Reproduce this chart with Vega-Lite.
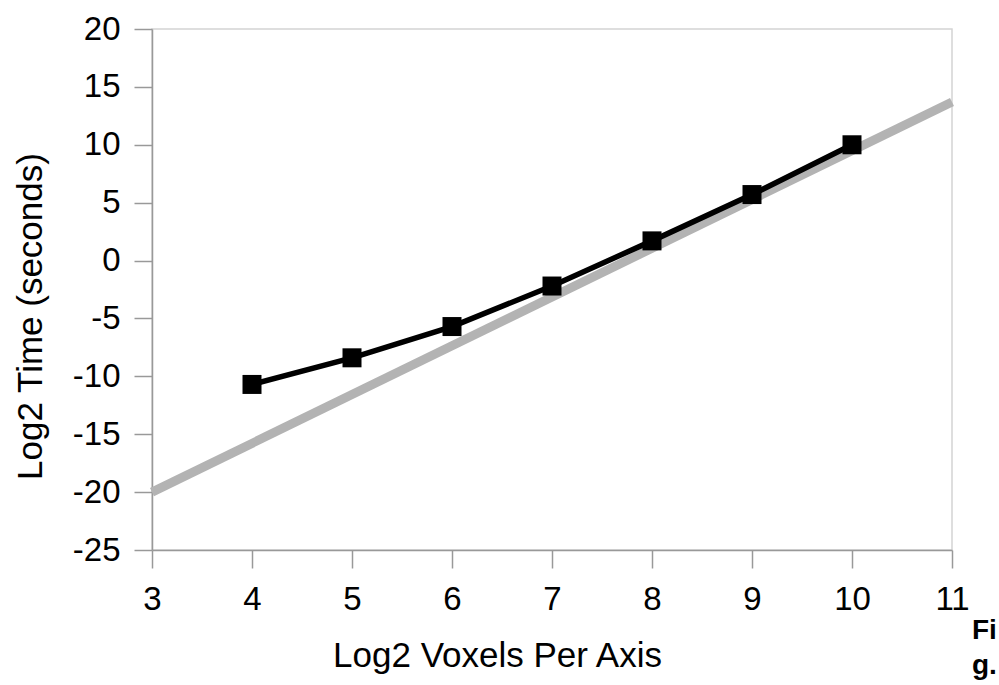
{
  "$schema": "https://vega.github.io/schema/vega-lite/v6.json",
  "autosize": "none",
  "width": 800,
  "height": 521,
  "padding": {"left": 152, "top": 29, "right": 47, "bottom": 135},
  "background": "white",
  "config": {
    "view": {"stroke": "#d4d4d4", "strokeWidth": 1.5},
    "font": "Liberation Sans",
    "axis": {
      "labelFont": "Liberation Sans",
      "titleFont": "Liberation Sans",
      "labelFontSize": 33,
      "titleFontSize": 35,
      "titleFontWeight": "normal",
      "labelColor": "black",
      "titleColor": "black",
      "domainColor": "#999999",
      "domainWidth": 1.5,
      "tickColor": "#999999",
      "tickWidth": 1.5,
      "tickSize": 18,
      "grid": false
    }
  },
  "title": {
    "text": ["Fi", "g."],
    "orient": "bottom",
    "anchor": "end",
    "align": "left",
    "frame": "group",
    "font": "Liberation Sans",
    "fontSize": 28,
    "fontWeight": "bold",
    "color": "black",
    "lineHeight": 35,
    "dx": 20,
    "offset": -56
  },
  "layer": [
    {
      "data": {"values": [{"x": 3, "y": -20}, {"x": 11, "y": 13.7}]},
      "mark": {"type": "line", "color": "#b3b3b3", "strokeWidth": 9, "strokeCap": "butt"},
      "encoding": {
        "x": {
          "field": "x", "type": "quantitative",
          "scale": {"domain": [3, 11], "nice": false, "zero": false},
          "axis": {"values": [3, 4, 5, 6, 7, 8, 9, 10, 11], "labelExpr": "'' + datum.value", "title": "Log2 Voxels Per Axis", "labelPadding": 15, "titlePadding": 22, "labelFlush": false, "titleLetterSpacing": 1.4, "titleX": 345}
        },
        "y": {
          "field": "y", "type": "quantitative",
          "scale": {"domain": [-25, 20], "nice": false, "zero": false},
          "axis": {"values": [-25, -20, -15, -10, -5, 0, 5, 10, 15, 20], "labelExpr": "'' + datum.value", "title": "Log2 Time (seconds)", "labelPadding": 14, "titlePadding": 24, "labelFlush": false, "titleLetterSpacing": 1.3, "titleY": 287}
        }
      }
    },
    {
      "data": {"values": [
        {"x": 4, "y": -10.7},
        {"x": 5, "y": -8.4},
        {"x": 6, "y": -5.7},
        {"x": 7, "y": -2.2},
        {"x": 8, "y": 1.7},
        {"x": 9, "y": 5.7},
        {"x": 10, "y": 10.0}
      ]},
      "mark": {"type": "line", "color": "black", "strokeWidth": 5.5, "point": {"shape": "square", "size": 361, "filled": true, "color": "black", "opacity": 1}},
      "encoding": {
        "x": {"field": "x", "type": "quantitative"},
        "y": {"field": "y", "type": "quantitative"}
      }
    }
  ]
}
